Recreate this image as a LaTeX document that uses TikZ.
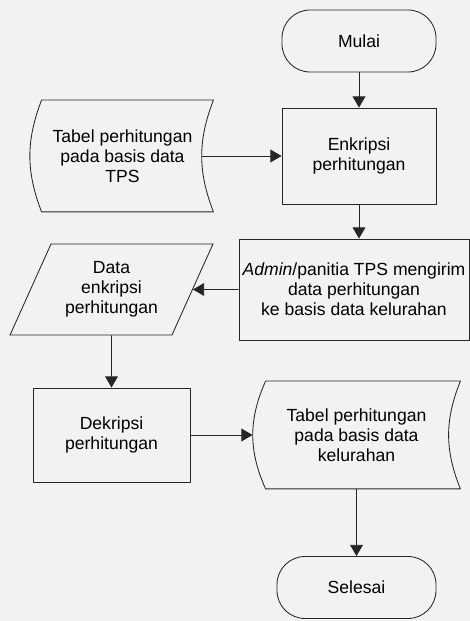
\documentclass[tikz,border=0pt]{standalone}
\usepackage{fontspec}
\setmainfont{Liberation Sans}
\usetikzlibrary{arrows.meta,shapes.geometric}

\begin{document}
\begin{tikzpicture}[font=\fontsize{12.5}{14.2}\selectfont, line width=0.6pt, draw=black!85]

      \fill[black!5] (0,0) rectangle (11.75,15.525);
      \useasboundingbox (0,0) rectangle (11.75,15.525);

      \begin{scope}[every node/.style={draw,rectangle,rounded corners=0.7cm,minimum height=1.55cm,inner sep=1pt}]
        \node[minimum width=3.85cm]  (mulai)   at (8.975,14.5)   {Mulai};
        \node[minimum width=3.975cm] (selesai) at (8.9125,0.8375) {Selesai};
      \end{scope}

      \begin{scope}[every node/.style={draw,rectangle,align=center,inner sep=1pt}]
        \node[minimum width=3.85cm,minimum height=2.4cm]    (enkripsi) at (8.975,11.625) {Enkripsi\\perhitungan};
        \node[minimum width=5.75cm,minimum height=2.525cm]  (kirim)    at (8.85,8.2875)  {\textit{Admin}/panitia TPS mengirim\\data perhitungan\\ke basis data kelurahan};
        \node[minimum width=3.925cm,minimum height=2.35cm]  (dekripsi) at (2.7875,4.65)  {Dekripsi\\perhitungan};
      \end{scope}

      \begin{scope}[every node/.style={rectangle,align=center,inner sep=1pt}]
        \node[minimum width=4.525cm,minimum height=2.775cm] (tabeltps) at (3.0625,11.625) {Tabel perhitungan\\pada basis data\\TPS};
        \node[minimum width=5.175cm,minimum height=2.675cm] (tabelkel) at (8.9125,4.65)  {Tabel perhitungan\\pada basis data\\kelurahan};
      \end{scope}

      \node[draw,trapezium,trapezium left angle=61,trapezium right angle=119,trapezium stretches=true,
            minimum width=5.075cm,minimum height=2.275cm,align=center,inner sep=1pt]
            (dataenk) at (2.7875,8.2875) {Data\\enkripsi\\perhitungan};

      \begin{scope}[line join=round]
        \draw ([xshift=0.25cm]tabeltps.north west) -- (tabeltps.north east)
              to[bend right=21] (tabeltps.south east) -- ([xshift=0.25cm]tabeltps.south west)
              to[bend left=21] ([xshift=0.25cm]tabeltps.north west) -- cycle;
        \draw ([xshift=0.325cm]tabelkel.north west) -- (tabelkel.north east)
              to[bend right=22] (tabelkel.south east) -- ([xshift=0.325cm]tabelkel.south west)
              to[bend left=24] ([xshift=0.325cm]tabelkel.north west) -- cycle;
      \end{scope}

      \begin{scope}[every edge/.style={draw,-{Triangle[length=2.8mm,width=3.2mm]}}]
        \path (mulai) edge (enkripsi);
        \path ([xshift=-0.28cm]tabeltps.east) edge (enkripsi);
        \path (enkripsi) edge (enkripsi |- kirim.north);
        \path (kirim) edge (dataenk);
        \path (dataenk) edge (dekripsi);
        \path (dekripsi) edge (tabelkel);
        \path (tabelkel) edge (selesai);
      \end{scope}

\end{tikzpicture}
\end{document}
